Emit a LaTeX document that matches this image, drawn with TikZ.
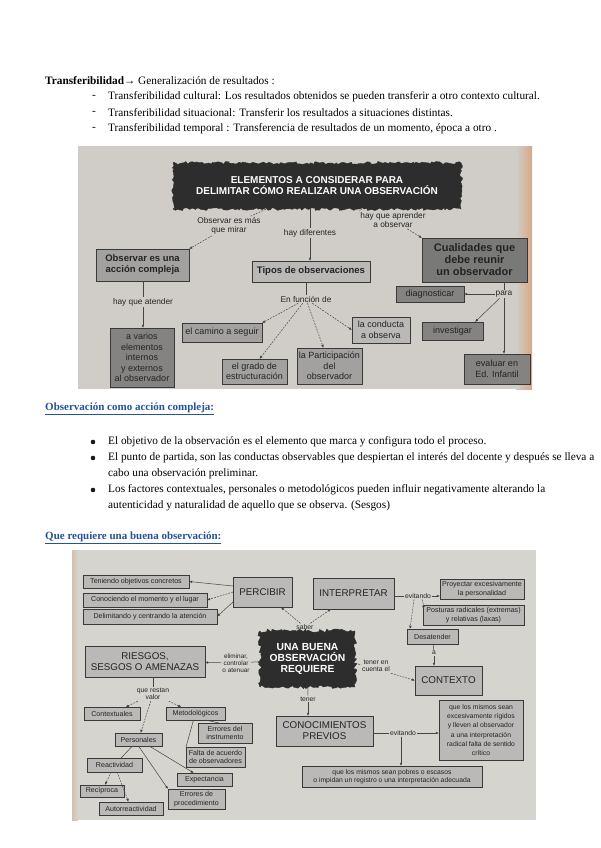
\documentclass[tikz,border=0pt]{standalone}
\usepackage{fontspec}
\setmainfont{Liberation Serif}
\newfontfamily\phf{Liberation Sans}
\usetikzlibrary{arrows.meta,decorations.pathmorphing}
\definecolor{bgA}{RGB}{208,205,200}
\definecolor{bgB}{RGB}{214,212,207}
\definecolor{headblue}{RGB}{38,82,150}
\definecolor{edgeor}{RGB}{214,168,135}
\definecolor{boxL}{RGB}{186,185,183}
\definecolor{boxM}{RGB}{162,161,159}
\definecolor{boxD}{RGB}{132,131,129}
\definecolor{ink}{RGB}{35,35,35}
\definecolor{ragged}{RGB}{45,45,45}
\begin{document}
\begin{tikzpicture}[x=1pt,y=-1pt,
  body/.style={anchor=west,inner sep=0pt,font=\fontsize{11.3}{13}\selectfont},
  head/.style={body,text=headblue,font=\bfseries\fontsize{11}{13}\selectfont},
  pbox/.style={draw=ink!90,line width=0.6pt,fill=boxL,text=ink,align=center,inner sep=1pt,outer sep=0pt},
  plab/.style={text=ink,align=center,inner sep=1pt},
  p1/.style={pbox,font=\phf\fontsize{9}{10.5}\selectfont},
  p1b/.style={pbox,font=\phf\bfseries\fontsize{9.5}{11}\selectfont},
  l1/.style={plab,font=\phf\fontsize{8.3}{9.3}\selectfont},
  p2/.style={pbox,font=\phf\fontsize{7.1}{8.4}\selectfont},
  p2big/.style={pbox,font=\phf\fontsize{9.8}{11}\selectfont},
  l2/.style={plab,font=\phf\fontsize{6.8}{7.6}\selectfont},
  rag/.style={fill=ragged,draw=ragged,text=white,align=center,inner sep=0pt,outer sep=0pt,
    decorate,decoration={random steps,segment length=2.2pt,amplitude=1.4pt}},
  conn/.style={draw=ink!85,line width=0.5pt},
  arr/.style={conn,-{Latex[length=3.2pt,width=2.6pt]}},
  dsh/.style={dash pattern=on 1.8pt off 1.2pt},
  bul/.style={circle,fill=black!90,inner sep=0pt,minimum size=4.6pt},
]
\useasboundingbox[fill=white] (0,0) rectangle (600,848);

% ---------- top text ----------
\node[body] (h1) at (45,81) {\textbf{Transferibilidad}→ Generalización de resultados :};
\node[body] (d1) at (92,97) {-};
\node[body] (l1) at (108,97) {Transferibilidad cultural: Los resultados obtenidos se pueden transferir a otro contexto cultural.};
\node[body] (d2) at (92,113) {-};
\node[body] (l2) at (108,113) {Transferibilidad situacional: Transferir los resultados a situaciones distintas.};
\node[body] (d3) at (92,129) {-};
\node[body] (l3) at (108,129) {Transferibilidad temporal : Transferencia de resultados de un momento, época a otro .};

% ---------- photo 1 ----------
\fill[bgA] (78,146) rectangle (532,389);
\shade[left color=bgA,right color=edgeor] (516,146) rectangle (532,389);

\node[rag,minimum width=288,minimum height=46,font=\phf\bfseries\fontsize{10}{11}\selectfont] (t1) at (317,186)
  {ELEMENTOS A CONSIDERAR PARA\\DELIMITAR CÓMO REALIZAR UNA OBSERVACIÓN};

\node[p1b,fill=boxM,minimum width=93,minimum height=32] (obs) at (142.5,265) {Observar es una\\acción compleja};
\node[p1b,fill=boxL,minimum width=118,minimum height=21] (tipos) at (311,271.5) {Tipos de observaciones};
\node[pbox,fill=boxD!92!black,minimum width=105,minimum height=44,font=\phf\bfseries\fontsize{11}{12}\selectfont] (cual) at (474.5,260) {Cualidades que\\debe reunir\\un observador};

\node[p1,fill=boxD,minimum width=64,minimum height=59] (varios) at (142,357.5) {a varios\\elementos\\internos\\y externos\\al observador};
\node[p1,fill=boxM,minimum width=80,minimum height=19] (camino) at (222,332.5) {el camino a seguir};
\node[p1,fill=boxM,minimum width=65,minimum height=25] (grado) at (254.5,371.5) {el grado de\\estructuración};
\node[p1,fill=boxM,minimum width=65,minimum height=36] (part) at (329.5,366) {la Participación\\del\\observador};
\node[p1,fill=boxL,minimum width=58,minimum height=26] (cond) at (381,330) {la conducta\\a observa};
\node[p1,fill=boxD,minimum width=68,minimum height=16] (diag) at (430,294) {diagnosticar};
\node[p1,fill=boxD,minimum width=61,minimum height=18] (inv) at (452.5,331) {investigar};
\node[p1,fill=boxD,minimum width=66,minimum height=30] (eval) at (497,369) {evaluar en\\Ed. Infantil};

\node[l1] (lmas) at (229,226) {Observar es más\\que mirar};
\node[l1] (ldif) at (310,233) {hay diferentes};
\node[l1] (lapr) at (393,220) {hay que aprender\\a observar};
\node[l1] (lat) at (143,302) {hay que atender};
\node[l1] (lfun) at (306,299) {En función de};
\node[l1] (lpara) at (504,294) {para};
\coordinate (c1) at (362,209);

\draw[conn,dsh] (lmas) -- (t1);
\draw[arr,dsh] (lmas) -- (obs.north east);
\draw[conn] (t1.south -| ldif) -- (ldif);
\draw[arr] (ldif) -- (ldif |- tipos.north);
\draw[conn,dsh] (c1) -- (lapr.north west);
\draw[arr,dsh] (lapr) -- (cual.north west);
\draw[conn] (obs.south -| lat) -- (lat);
\draw[arr] (lat) -- (lat |- varios.north);
\draw[conn] (tipos.south -| lfun) -- (lfun);
\draw[arr,dsh] (lfun) -- (camino.north east);
\draw[arr,dsh] (lfun) -- ([xshift=5pt]grado.north);
\draw[arr,dsh] (lfun) -- ([xshift=-6pt]part.north);
\draw[arr,dsh] (lfun) -- (cond.west);
\draw[conn] (cual.south -| lpara) -- (lpara);
\draw[arr] (lpara) -- (diag);
\draw[arr] (lpara) -- ([xshift=-8pt]inv.north east);
\draw[arr] (lpara) -- (lpara |- eval.north);

% ---------- middle text ----------
\node[head] (hobs) at (45,409) {\underline{Observación como acción compleja:}};
\node[bul] (b1) at (93,442) {};
\node[body] (s1) at (108,442) {El objetivo de la observación es el elemento que marca y configura todo el proceso.};
\node[bul] (b2) at (93,458) {};
\node[body] (s2) at (108,458) {El punto de partida, son las conductas observables que despiertan el interés del docente y después se lleva a};
\node[body] (s2b) at (108,474) {cabo una observación preliminar.};
\node[bul] (b3) at (93,490) {};
\node[body] (s3) at (108,490) {Los factores contextuales, personales o metodológicos pueden influir negativamente alterando la};
\node[body] (s3b) at (108,506) {autenticidad y naturalidad de aquello que se observa. (Sesgos)};
\node[head] (hreq) at (45,538) {\underline{Que requiere una buena observación:}};

% ---------- photo 2 ----------
\fill[bgB] (72,550) rectangle (536,820);
\shade[left color=edgeor!45!bgB,right color=bgB] (72,550) rectangle (78,820);

\node[p2,minimum width=106,minimum height=13] (ten) at (136,581.5) {Teniendo objetivos concretos};
\node[p2,minimum width=124,minimum height=14] (con) at (145,600) {Conociendo el momento y el lugar};
\node[p2,minimum width=134,minimum height=15] (del) at (150,616.5) {Delimitando y centrando la atención};
\node[p2big,minimum width=59,minimum height=30] (perc) at (262.5,592) {PERCIBIR};
\node[p2big,minimum width=81,minimum height=31] (interp) at (353.5,593.5) {INTERPRETAR};
\node[l2] (lsaber) at (305,627) {saber};
\node[l2] (lev1) at (418,596) {evitando};
\node[p2,minimum width=84,minimum height=20] (proy) at (482,589) {Proyectar excesivamente\\la personalidad};
\node[p2,minimum width=101,minimum height=20] (post) at (473.5,615) {Posturas radicales (extremas)\\y relativas (laxas)};
\node[p2,minimum width=51,minimum height=15] (desat) at (432.5,636.5) {Desatender};
\node[l2] (la) at (434,653) {a};
\node[p2big,minimum width=67,minimum height=29] (ctx) at (448.5,680.5) {CONTEXTO};

\node[rag,minimum width=95,minimum height=56,font=\phf\bfseries\fontsize{10.3}{11.3}\selectfont,
  decoration={random steps,segment length=2.5pt,amplitude=2pt}] (t2) at (307.5,659) {UNA BUENA\\OBSERVACIÓN\\REQUIERE};
\node[l2] (lten2) at (376,666) {tener en\\cuenta el};
\node[l2] (lten) at (308,699) {tener};
\node[p2big,minimum width=97,minimum height=30] (conoc) at (324.5,731) {CONOCIMIENTOS\\PREVIOS};
\node[l2] (lev2) at (403,733) {evitando};
\node[pbox,minimum width=84,minimum height=60,font=\phf\fontsize{6.8}{9.3}\selectfont] (rig) at (481,730)
  {que los mismos sean\\excesivamente rígidos\\y lleven al observador\\a una interpretación\\radical falta de sentido\\crítico};
\node[pbox,minimum width=180,minimum height=21,font=\phf\fontsize{6.8}{8.2}\selectfont] (pob) at (392,776.5)
  {que los mismos sean pobres o escasos\\o impidan un registro o una interpretación adecuada};

\node[p2big,minimum width=120,minimum height=31] (ries) at (145,661.5) {RIESGOS,\\SESGOS O AMENAZAS};
\node[plab,font=\phf\fontsize{6.4}{7}\selectfont] (lelim) at (236,663) {eliminar,\\controlar\\o atenuar};
\node[l2] (lval) at (153,694) {que restan\\valor};
\node[p2,minimum width=56,minimum height=13] (cont) at (112,713.5) {Contextuales};
\node[p2,minimum width=59,minimum height=13] (met) at (195.5,713.5) {Metodológicos};
\node[p2,minimum width=47,minimum height=13] (pers) at (138.5,739.5) {Personales};
\node[p2,minimum width=54,minimum height=20] (errin) at (225,733) {Errores del\\instrumento};
\node[p2,minimum width=59,minimum height=20] (falta) at (215.5,757) {Falta de acuerdo\\de observadores};
\node[p2,minimum width=55,minimum height=13] (expe) at (204.5,779.5) {Expectancia};
\node[p2,minimum width=57,minimum height=20] (errpr) at (196.5,799) {Errores de\\procedimiento};
\node[p2,minimum width=55,minimum height=14] (react) at (114.5,765) {Reactividad};
\node[p2,minimum width=44,minimum height=12] (recip) at (102,791) {Recíproca};
\node[p2,minimum width=64,minimum height=13] (auto) at (131,808.5) {Autorreactividad};

\draw[arr] ([yshift=6pt]perc.west) -- (ten.east);
\draw[arr,dsh] (perc.west) -- (con.east);
\draw[arr] ([yshift=-10pt]perc.west) -- (del.east);
\draw[arr,dsh] (lsaber) -- (perc);
\draw[arr,dsh] (lsaber) -- (interp);
\draw[conn] (interp.east |- lev1) -- (lev1);
\draw[arr] (lev1) -- (lev1 -| proy.west);
\draw[arr,dsh] ([xshift=4pt]lev1.south) to[bend left=15] ([yshift=-4pt]post.north west);
\draw[arr,dsh] ([xshift=-4pt]lev1.south) -- ([xshift=3pt]desat.north west);
\draw[conn] (desat) -- (la);
\draw[arr] (la) -- (la |- ctx.north);
\draw[conn,dsh] (t2) -- (lten2);
\draw[arr,dsh] (lten2.south east) -- (ctx.west);
\draw[conn] (t2) -- (lten);
\draw[arr] (lten) -- (lten |- conoc.north);
\draw[conn] (conoc.east |- lev2) -- (lev2);
\draw[arr] (lev2) -- (lev2 -| rig.west);
\draw[arr] ([xshift=-2pt]lev2.south) -- ([xshift=-2pt]lev2.south |- pob.north);
\draw[conn] (t2) -- (lelim);
\draw[arr] (lelim) -- (ries);
\draw[conn] (ries.south -| lval) -- (lval);
\draw[arr,dsh] (lval) -- (cont);
\draw[arr,dsh] (lval) -- (met);
\draw[arr,dsh] (lval) -- (pers);
\draw[conn] ([xshift=10pt]met.south) -- ([xshift=-6pt]errin.north);
\draw[conn] ([xshift=-2pt]met.south) -- (falta.north west);
\draw[conn] (pers) -- (react);
\draw[arr] (pers) -- (expe);
\draw[arr] (pers.south) -- (errpr.north west);
\draw[arr,dsh] (react) -- (recip);
\draw[arr,dsh] (react) -- (auto);
\end{tikzpicture}
\end{document}
